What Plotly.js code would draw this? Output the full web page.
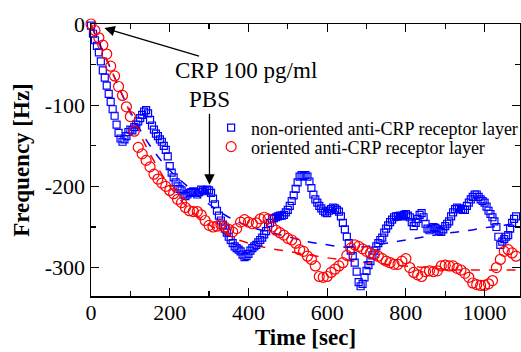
<!DOCTYPE html>
<html>
<head>
<meta charset="utf-8">
<script src="https://cdn.plot.ly/plotly-3.0.1.min.js"></script>
<style>
html,body{margin:0;padding:0;overflow:hidden;background:#fff;}
#chart{width:524px;height:352px;}
</style>
</head>
<body>
<div id="chart"></div>
<script>
// non-oriented series: time axis (sec), sampled every 5 s
const timeBlue = [0,5,10,15,20,25,30,35,40,45,50,55,60,65,70,75,80,85,90,95,100,105,110,115,120,125,130,135,140,145,150,155,160,165,170,175,180,185,190,195,200,205,210,215,220,225,230,235,240,245,250,255,260,265,270,275,280,285,290,295,300,305,310,315,320,325,330,335,340,345,350,355,360,365,370,375,380,385,390,395,400,405,410,415,420,425,430,435,440,445,450,455,460,465,470,475,480,485,490,495,500,505,510,515,520,525,530,535,540,545,550,555,560,565,570,575,580,585,590,595,600,605,610,615,620,625,630,635,640,645,650,655,660,665,670,675,680,685,690,695,700,705,710,715,720,725,730,735,740,745,750,755,760,765,770,775,780,785,790,795,800,805,810,815,820,825,830,835,840,845,850,855,860,865,870,875,880,885,890,895,900,905,910,915,920,925,930,935,940,945,950,955,960,965,970,975,980,985,990,995,1000,1005,1010,1015,1020,1025,1030,1035,1040,1045,1050,1055,1060,1065,1070,1075,1080];

// non-oriented anti-CRP receptor layer (Hz)
const nonOriented = [-2,-12,-20,-27,-35,-46,-57,-66,-76,-86,-96,-105,-113,-124,-134,-141,-145,-142,-138,-133,-130,-131,-127,-124,-120,-116,-112,-108,-106,-110,-118,-125,-130,-135,-138,-142,-145,-150,-155,-163,-175,-183,-189,-195,-200,-203,-205,-210,-212,-210,-208,-207,-206,-208,-210,-207,-204,-205,-206,-204,-205,-208,-215,-222,-230,-236,-242,-247,-252,-257,-262,-266,-270,-274,-276,-278,-280,-284,-287,-286,-283,-279,-276,-274,-272,-269,-266,-263,-259,-255,-250,-245,-240,-239,-238,-237,-236,-236,-235,-232,-229,-224,-218,-211,-203,-195,-188,-186,-187,-186,-188,-194,-202,-210,-216,-220,-224,-227,-230,-232,-233,-230,-228,-226,-227,-229,-231,-237,-245,-253,-262,-270,-279,-286,-294,-305,-318,-323,-320,-312,-304,-297,-292,-285,-279,-274,-270,-266,-263,-257,-252,-248,-244,-241,-238,-237,-237,-236,-237,-235,-234,-236,-238,-244,-249,-245,-240,-235,-233,-238,-246,-252,-254,-252,-250,-251,-253,-255,-256,-253,-249,-246,-243,-237,-232,-228,-226,-227,-228,-229,-229,-224,-220,-216,-213,-210,-210,-213,-216,-218,-220,-225,-230,-234,-238,-243,-250,-262,-272,-268,-265,-262,-260,-252,-245,-240,-237];

// oriented series: time axis (sec), sampled every 10 s
const timeRed = [0,10,20,30,40,50,60,70,80,90,100,110,120,130,140,150,160,170,180,190,200,210,220,230,240,250,260,270,280,290,300,310,320,330,340,350,360,370,380,390,400,410,420,430,440,450,460,470,480,490,500,510,520,530,540,550,560,570,580,590,600,610,620,630,640,650,660,670,680,690,700,710,720,730,740,750,760,770,780,790,800,810,820,830,840,850,860,870,880,890,900,910,920,930,940,950,960,970,980,990,1000,1010,1020,1030,1040,1050,1060,1070,1080];

// oriented anti-CRP receptor layer (Hz)
const oriented = [0,-8,-17,-26,-37,-52,-64,-77,-88,-102,-114,-132,-152,-160,-168,-176,-185,-191,-196,-200,-205,-209,-216,-220,-226,-230,-231,-231,-235,-242,-248,-250,-249,-247,-250,-253,-256,-252,-244,-241,-244,-246,-245,-240,-238,-240,-250,-254,-257,-260,-264,-266,-270,-278,-280,-286,-290,-298,-311,-312,-311,-306,-302,-298,-294,-285,-276,-272,-274,-277,-280,-282,-284,-286,-289,-292,-294,-296,-296,-292,-289,-300,-306,-309,-311,-305,-304,-305,-304,-298,-297,-298,-298,-301,-303,-307,-312,-319,-321,-322,-322,-320,-316,-300,-290,-280,-278,-282,-286];

// fitted curves (dashed), sampled every 50 s
const fitTime = [0,50,100,150,200,250,300,350,400,450,500,550,600,650,700,750,800,850,900,950,1000,1050,1090];
const fitNonOriented = [-2,-55,-108,-150,-180,-202,-222,-238,-249,-256,-262,-268,-272,-275,-274,-270,-266,-262,-258,-255,-251,-248,-244];
const fitOriented = [0,-55,-110,-160,-200,-228,-247,-261,-270,-276,-280,-284,-288,-291,-294,-296,-298,-300,-302,-303,-303,-303,-303];

// axis ticks
const xTickVals = [0,200,400,600,800,1000];
const xTickText = ['0','200','400','600','800','1000'];
const yTickVals = [0,-100,-200,-300];
const yTickText = ['0','-100','-200','-300'];

const seriesNames = ['non-oriented anti-CRP receptor layer','oriented anti-CRP receptor layer'];
const BLUE = '#0000ff', RED = '#ff0000';
const SERIF = 'Liberation Serif';

const traces = [
  {x: fitTime, y: fitNonOriented, mode:'lines', line:{color:BLUE, dash:'dash', width:1.5, shape:'spline'}, showlegend:false, hoverinfo:'skip'},
  {x: fitTime, y: fitOriented, mode:'lines', line:{color:RED, dash:'dash', width:1.5, shape:'spline'}, showlegend:false, hoverinfo:'skip'},
  {x: timeBlue, y: nonOriented, name: seriesNames[0], mode:'markers', cliponaxis:false, legend:'legend',
   marker:{symbol:'square-open', size:7, color:BLUE, line:{width:1.2}}},
  {x: timeRed, y: oriented, name: seriesNames[1], mode:'markers', cliponaxis:false, legend:'legend2',
   marker:{symbol:'circle-open', size:10, color:RED, line:{width:1.2}}}
];

const axisCommon = {
  showgrid:false, zeroline:false, showline:true, linecolor:'#000', linewidth:1.5,
  mirror:'ticks', ticks:'inside', ticklen:8, tickwidth:1.2, tickcolor:'#000',
  tickfont:{family:SERIF, size:22, color:'#000'}
};

const legendCommon = {xanchor:'left', yanchor:'top', bgcolor:'rgba(0,0,0,0)',
  font:{family:SERIF, size:18, color:'#000'}, itemwidth:30, tracegroupgap:0};

const layout = {
  width:524, height:352, autosize:false,
  margin:{l:91, r:1, t:24, b:56},
  paper_bgcolor:'#fff', plot_bgcolor:'#fff',
  font:{family:SERIF, color:'#000'},
  xaxis: Object.assign({}, axisCommon, {
    range:[0,1090], tickmode:'array', tickvals:xTickVals, ticktext:xTickText,
    ticklabelstandoff:-4,
    minor:{dtick:100, tick0:0, ticks:'inside', ticklen:5, tickcolor:'#000', tickwidth:1.2},
    title:{text:'<b>Time [sec]</b>', font:{family:SERIF, size:23, color:'#000'}, standoff:2}
  }),
  yaxis: Object.assign({}, axisCommon, {
    range:[-335,0], tickmode:'array', tickvals:yTickVals, ticktext:yTickText,
    minor:{dtick:50, tick0:0, ticks:'inside', ticklen:5, tickcolor:'#000', tickwidth:1.2},
    title:{text:'<b>Frequency [Hz]</b>', font:{family:SERIF, size:23, color:'#000'}, standoff:8}
  }),
  legend: Object.assign({}, legendCommon, {x:0.28, y:0.686}),
  legend2: Object.assign({}, legendCommon, {x:0.28, y:0.616}),
  annotations:[
    {x:34, y:-5, xref:'x', yref:'y', text:'CRP 100 pg/ml', showarrow:true,
     ax:142, ay:42, axref:'pixel', ayref:'pixel',
     arrowhead:2, arrowsize:1.6, arrowwidth:1.3, arrowcolor:'#000',
     font:{family:SERIF, size:23, color:'#000'}},
    {x:301, y:-198, xref:'x', yref:'y', text:'PBS', showarrow:true,
     ax:0, ay:-85, arrowhead:2, arrowsize:1.6, arrowwidth:1.3, arrowcolor:'#000',
     font:{family:SERIF, size:23, color:'#000'}}
  ]
};

Plotly.newPlot('chart', traces, layout, {displayModeBar:false, staticPlot:true});
</script>
</body>
</html>
